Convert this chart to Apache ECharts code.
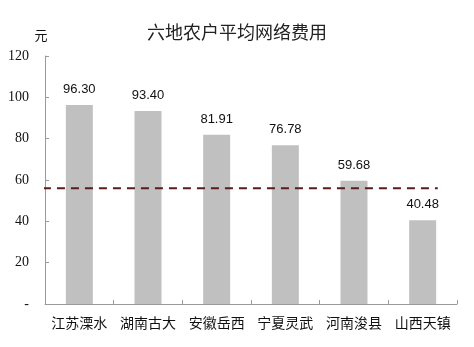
<!DOCTYPE html>
<html>
<head>
<meta charset="utf-8">
<script src="https://cdn.jsdelivr.net/npm/echarts@6/dist/echarts.min.js"></script>
<style>html,body{margin:0;padding:0;background:#fff}#c{width:474px;height:347px}</style>
</head>
<body>
<div id="c"></div>
<script>
var categories = ['江苏溧水', '湖南古大', '安徽岳西', '宁夏灵武', '河南浚县', '山西天镇'];
var values = [96.30, 93.40, 81.91, 76.78, 59.68, 40.48];
var refLineValue = 56;
var refLineSpan = [-0.03, 5.72];
var yTicks = [0, 20, 40, 60, 80, 100, 120];

var chart = echarts.init(document.getElementById('c'));
chart.setOption({
  backgroundColor: '#fff',
  animation: false,
  title: {
    text: '六地农户平均网络费用',
    left: 'center',
    top: 18,
    textStyle: {fontFamily: 'Noto Sans CJK SC', fontSize: 18, fontWeight: 'normal', color: '#222'}
  },
  grid: {left: 45, right: 17, top: 56, bottom: 43},
  xAxis: [{
    type: 'category',
    data: categories,
    axisLine: {lineStyle: {color: '#9a9a9a', width: 1}},
    axisTick: {show: true, inside: true, length: 4, lineStyle: {color: '#9a9a9a'}},
    axisLabel: {interval: 0, fontFamily: 'Noto Sans CJK SC', fontSize: 14, color: '#111', margin: 12}
  }, {
    type: 'value',
    min: 0, max: 6,
    show: false
  }],
  yAxis: {
    type: 'value',
    min: yTicks[0], max: yTicks[yTicks.length - 1], interval: 20,
    name: '元',
    nameLocation: 'end',
    nameGap: 14,
    nameTextStyle: {fontFamily: 'Noto Sans CJK SC', fontSize: 13, color: '#111', padding: [0, 8, 0, 0]},
    axisLine: {show: true, lineStyle: {color: '#9a9a9a', width: 1}},
    axisTick: {show: true, inside: true, length: 4, lineStyle: {color: '#9a9a9a'}},
    splitLine: {show: false},
    axisLabel: {
      fontFamily: 'Liberation Serif', fontSize: 14, color: '#111', margin: 16,
      formatter: function (v) { return v === 0 ? '-' : String(v); }
    }
  },
  series: [{
    type: 'bar',
    data: values,
    barWidth: 27,
    itemStyle: {color: '#c0c0c0'},
    label: {
      show: true, position: 'top', distance: 9,
      fontFamily: 'Liberation Sans', fontSize: 13, color: '#111',
      formatter: function (p) { return p.value.toFixed(2); }
    },
    z: 2
  }, {
    type: 'line',
    xAxisIndex: 1,
    data: [[refLineSpan[0], refLineValue], [refLineSpan[1], refLineValue]],
    symbol: 'none',
    lineStyle: {color: '#5a1c1c', width: 2, type: [8, 6]},
    z: 3
  }]
});
</script>
</body>
</html>
